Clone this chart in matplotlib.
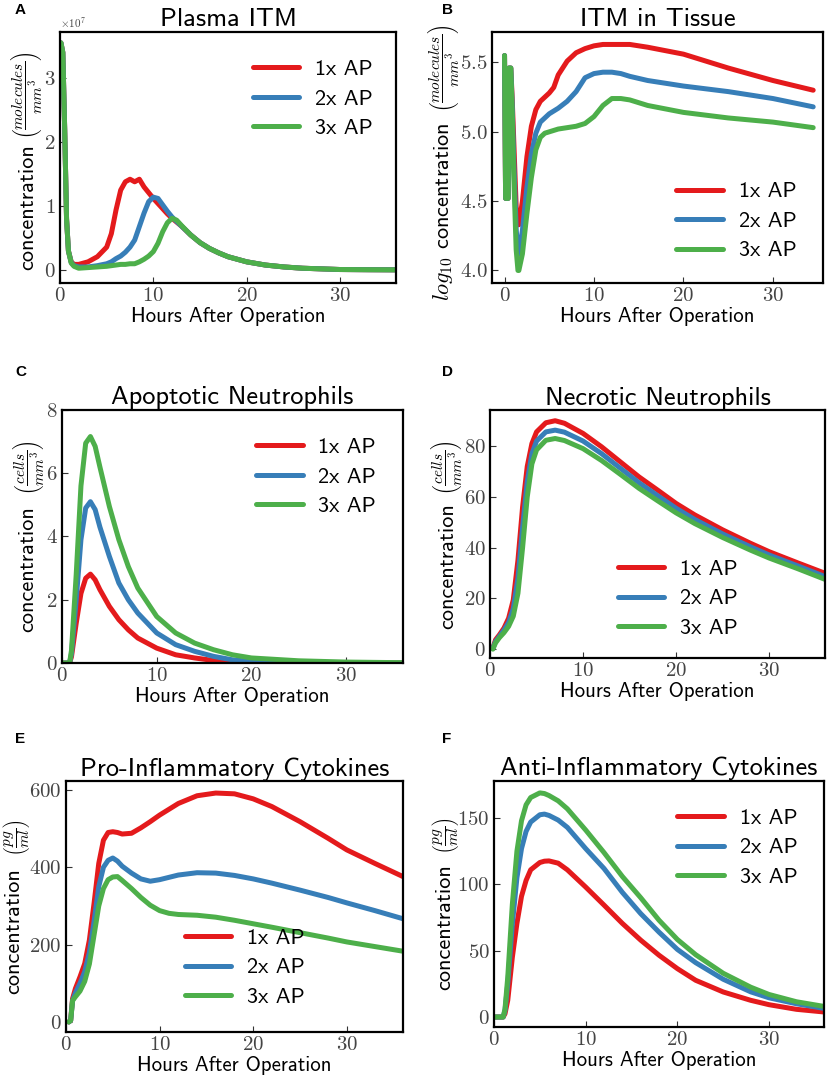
import matplotlib
matplotlib.use("Agg")
import matplotlib.pyplot as plt

plt.rcParams['font.family'] = 'cmr10'
plt.rcParams['mathtext.fontset'] = 'cm'
plt.rcParams['axes.formatter.use_mathtext'] = True

# series colours / names
names = ["1x AP", "2x AP", "3x AP"]
colors = ["#e41a1c", "#377eb8", "#4daf4a"]

# A: plasma ITM (units of 1e7 molecules/mm^3)
tA = [0.1, 0.3, 0.5, 0.7, 0.9, 1.2, 1.5, 2, 3, 4, 5, 5.5, 6, 6.5, 7, 7.5, 8, 8.5, 9, 9.5,
      10, 10.5, 11, 11.5, 12, 12.5, 13, 14, 15, 16, 17, 18, 20, 22, 24, 26, 28, 30, 33, 36]
itm_1 = [3.55, 3.4, 2.2, 0.8, 0.3, 0.13, 0.09, 0.09, 0.13, 0.21, 0.36, 0.57, 0.94, 1.25, 1.38, 1.42,
         1.38, 1.42, 1.30, 1.21, 1.12, 1.04, 0.96, 0.88, 0.81, 0.75, 0.69, 0.55, 0.43, 0.34, 0.27, 0.21,
         0.13, 0.08, 0.05, 0.03, 0.02, 0.01, 0.007, 0.005]
itm_2 = [3.55, 3.4, 2.2, 0.8, 0.3, 0.12, 0.07, 0.05, 0.05, 0.07, 0.10, 0.13, 0.18, 0.22, 0.28, 0.36,
         0.47, 0.68, 0.89, 1.07, 1.14, 1.12, 1.02, 0.92, 0.83, 0.76, 0.69, 0.55, 0.43, 0.34, 0.27, 0.21,
         0.13, 0.08, 0.05, 0.03, 0.02, 0.01, 0.007, 0.005]
itm_3 = [3.55, 3.4, 2.2, 0.8, 0.3, 0.11, 0.06, 0.03, 0.04, 0.05, 0.06, 0.07, 0.08, 0.09, 0.09, 0.10,
         0.10, 0.13, 0.17, 0.22, 0.29, 0.42, 0.60, 0.74, 0.81, 0.78, 0.70, 0.55, 0.43, 0.34, 0.27, 0.21,
         0.13, 0.08, 0.05, 0.03, 0.02, 0.01, 0.007, 0.005]
itm_scale = 1e7

# B: log10 ITM in tissue
tB = [0.0, 0.12, 0.4, 0.5, 0.7, 0.85, 1.0, 1.3, 1.5, 1.6, 2, 2.5, 3, 3.5, 4, 4.5, 5, 5.5, 6, 7, 8, 9,
      10, 11, 12, 13, 14, 16, 20, 25, 30, 34.5]
tis_1 = [5.55, 4.52, 4.52, 5.46, 5.46, 5.25, 4.99, 4.46, 4.33, 4.33, 4.50, 4.82, 5.04, 5.16, 5.22, 5.25,
         5.28, 5.32, 5.41, 5.51, 5.57, 5.60, 5.62, 5.63, 5.63, 5.63, 5.63, 5.61, 5.56, 5.46, 5.37, 5.30]
tis_2 = [5.55, 4.52, 4.52, 5.46, 5.46, 5.2, 4.85, 4.3, 4.12, 4.12, 4.29, 4.60, 4.84, 4.99, 5.07, 5.10,
         5.13, 5.15, 5.17, 5.22, 5.29, 5.39, 5.42, 5.43, 5.43, 5.42, 5.40, 5.37, 5.33, 5.29, 5.24, 5.18]
tis_3 = [5.55, 4.52, 4.52, 5.46, 5.46, 5.15, 4.75, 4.15, 4.0, 4.0, 4.12, 4.41, 4.67, 4.87, 4.96, 4.99,
         5.00, 5.01, 5.02, 5.03, 5.04, 5.06, 5.11, 5.19, 5.24, 5.24, 5.23, 5.19, 5.14, 5.10, 5.07, 5.03]

# C: apoptotic neutrophils
tC = [0, 0.8, 1, 1.5, 2, 2.5, 3, 3.5, 4, 5, 6, 7, 8, 10, 12, 14, 16, 18, 20, 25, 30, 36]
apo_1 = [0, 0, 0.2, 1.26, 2.2, 2.68, 2.81, 2.63, 2.32, 1.79, 1.37, 1.05, 0.79, 0.47, 0.26, 0.16, 0.08,
         0.04, 0.02, 0.005, 0.0, 0.0]
apo_2 = [0, 0, 0.3, 2.0, 3.9, 4.9, 5.1, 4.85, 4.3, 3.37, 2.53, 2.0, 1.58, 0.95, 0.58, 0.37, 0.21, 0.1,
         0.05, 0.01, 0.0, 0.0]
apo_3 = [0, 0, 0.4, 2.8, 5.6, 6.95, 7.16, 6.85, 6.2, 4.95, 3.9, 3.05, 2.37, 1.47, 0.95, 0.63, 0.42,
         0.26, 0.16, 0.07, 0.03, 0.01]

# D: necrotic neutrophils
tD = [0.3, 0.6, 1, 1.5, 2, 2.5, 3, 3.5, 4, 4.5, 5, 6, 7, 8, 10, 12, 14, 16, 18, 20, 22, 25, 28, 30, 33, 36]
nec_1 = [0.4, 3.7, 5.6, 8.3, 12.2, 19.4, 35, 56, 72, 81, 85.6, 89.2, 90, 89, 85, 79.7, 73.8, 67.9,
         62.7, 57.4, 52.9, 47, 41.7, 38.4, 34.1, 29.9]
nec_2 = [0.3, 3, 5, 7.5, 10.5, 16, 28, 48, 66, 77, 82, 85.6, 86.3, 85.5, 82, 77, 71.3, 65.6, 60.5,
         55.5, 51.1, 45.4, 40.3, 37.1, 32.9, 28.6]
nec_3 = [0, 2.5, 4.5, 6.5, 9, 13, 22, 40, 60, 73, 78.5, 82.3, 83, 82.2, 79, 74.3, 68.9, 63.4, 58.5,
         53.7, 49.5, 44, 39, 35.9, 31.8, 27.5]

# E: pro-inflammatory cytokines
tE = [0.3, 0.5, 0.7, 1, 1.5, 2, 2.5, 3, 3.5, 4, 4.5, 5, 5.5, 6, 7, 8, 9, 10, 11, 12, 14, 16, 18, 20,
      22, 25, 28, 30, 33, 36]
pro_1 = [0, 4, 60, 86, 117, 151, 212, 307, 410, 470, 490, 492, 490, 486, 488, 502, 518, 535, 550, 565,
         585, 592, 590, 577, 557, 518, 475, 445, 410, 376]
pro_2 = [0, 4, 55, 75, 100, 130, 180, 260, 350, 400, 418, 424, 416, 403, 385, 370, 364, 368, 374, 380,
         386, 385, 379, 370, 359, 341, 322, 308, 288, 267]
pro_3 = [0, 4, 55, 65, 80, 105, 150, 225, 300, 345, 368, 375, 376, 366, 345, 322, 302, 288, 281, 278,
         276, 271, 263, 254, 245, 231, 217, 207, 195, 183]

# F: anti-inflammatory cytokines
tF = [0, 1, 1.2, 1.5, 2, 2.5, 3, 3.5, 4, 5, 5.5, 6, 7, 8, 10, 12, 14, 16, 18, 20, 22, 25, 28, 30, 33, 36]
anti_1 = [0, 0, 2.5, 12.6, 45, 70.6, 91, 103, 111, 116.5, 117.5, 117.7, 116, 111, 98, 84.4, 70.6, 58,
          46.6, 36.5, 27.7, 18.9, 12.6, 9.3, 5.8, 3.8]
anti_2 = [0, 0, 5, 25, 70, 105, 127, 140, 147, 152.5, 153, 152, 148.5, 143, 127, 112, 94, 78, 64, 51,
          41, 28.5, 19, 14.5, 10, 6.5]
anti_3 = [0, 0, 6, 30, 85, 125, 148, 160, 165.5, 169, 168.5, 167, 163, 157, 141, 124, 106, 90, 73,
          58.5, 47, 33, 22.5, 17, 11.5, 8]

units_mol = r"$\left(\dfrac{molecules}{mm^3}\right)$"
units_cells = r"$\left(\dfrac{cells}{mm^3}\right)$"
units_pg = r"$\left(\dfrac{pg}{ml}\right)$"

panels = [
    ("A", "Plasma ITM", tA, [[v * itm_scale for v in s] for s in (itm_1, itm_2, itm_3)],
     "concentration", units_mol, (0, 36), (-0.2e7, 3.72e7),
     [0, 1e7, 2e7, 3e7], [0.0724, 0.738, 0.4053, 0.2324],
     dict(loc="upper right", bbox_to_anchor=(0.99, 0.97))),
    ("B", "ITM in Tissue", tB, [tis_1, tis_2, tis_3],
     r"$log_{10}$ concentration", units_mol, (-1.4, 35.6), (3.91, 5.72),
     [4.0, 4.5, 5.0, 5.5], [0.5935, 0.738, 0.3993, 0.2324],
     dict(loc="lower right", bbox_to_anchor=(0.98, 0.01))),
    ("C", "Apoptotic Neutrophils", tC, [apo_1, apo_2, apo_3],
     "concentration", units_cells, (0, 36), (0, 8), [0, 2, 4, 6, 8],
     [0.0748, 0.3861, 0.4113, 0.2343], dict(loc="upper right", bbox_to_anchor=(0.98, 0.97))),
    ("D", "Necrotic Neutrophils", tD, [nec_1, nec_2, nec_3],
     "concentration", units_cells, (0, 36), (-3.5, 94.2), [0, 20, 40, 60, 80],
     [0.5911, 0.3907, 0.4041, 0.2296], dict(loc="lower center", bbox_to_anchor=(0.56, 0.0))),
    ("E", "Pro-Inflammatory Cytokines", tE, [pro_1, pro_2, pro_3],
     "concentration", units_pg, (0, 36), (-26, 623), [0, 200, 400, 600],
     [0.0796, 0.0444, 0.4065, 0.2324], dict(loc="lower center", bbox_to_anchor=(0.53, 0.02))),
    ("F", "Anti-Inflammatory Cytokines", tF, [anti_1, anti_2, anti_3],
     "concentration", units_pg, (0, 36), (-7.5, 178), [0, 50, 100, 150],
     [0.5959, 0.0491, 0.3981, 0.2278], dict(loc="upper right", bbox_to_anchor=(0.98, 0.97))),
]

# pixel positions (x, y from top): panel letters, y-label word, y-label units
letter_pos = {"A": (15, 10), "B": (442, 10), "C": (15, 372), "D": (442, 372), "E": (15, 739), "F": (442, 739)}
word_pos = {"A": (28, 207), "B": (443, 212), "C": (28, 569), "D": (448, 566), "E": (14, 931), "F": (445, 927)}
unit_pos = {"A": (27, 95), "B": (444, 68), "C": (28, 468), "D": (447, 468), "E": (17, 838), "F": (446, 836)}

W, H = 829, 1080
fig = plt.figure(figsize=(W / 100, H / 100), dpi=100)

for letter, title, t, series, word, units, xlim, ylim, yticks, rect, legkw in panels:
    ax = fig.add_axes(rect)
    for y, c, n in zip(series, colors, names):
        ax.plot(t, y, color=c, lw=3.6, label=n, solid_capstyle="round")
    ax.set_xlim(*xlim)
    ax.set_ylim(*ylim)
    ax.set_xticks([0, 10, 20, 30])
    ax.set_yticks(yticks)
    if letter == "A":
        ax.ticklabel_format(axis="y", style="sci", scilimits=(0, 0))
        ax.yaxis.get_offset_text().set_fontsize(8)
        ax.yaxis.get_offset_text().set_color("#444444")
    ax.tick_params(direction="in", labelsize=15, length=4, pad=3, colors="#333333", labelcolor="#444444")
    for s in ax.spines.values():
        s.set_linewidth(1.6)
    ax.set_title(title, fontfamily="cmss10", fontsize=19, pad=4)
    ax.set_xlabel("Hours After Operation", fontfamily="cmss10", fontsize=15, labelpad=1)
    # y label in two parts: the word(s) and the units fraction
    wx, wy = word_pos[letter]
    fig.text(wx / W, 1 - wy / H, word, fontfamily="cmss10", fontsize=16, rotation=90,
             ha="center", va="center")
    ux, uy = unit_pos[letter]
    fig.text(ux / W, 1 - uy / H, units, fontsize=11, rotation=90, ha="center", va="center")
    ax.legend(frameon=False, handlelength=2.1, labelspacing=0.45, handletextpad=0.7,
              prop={"family": "cmss10", "size": 16}, **legkw)
    lx, ly = letter_pos[letter]
    fig.text(lx / W, 1 - ly / H, letter, fontfamily="Liberation Sans", fontweight="bold",
             fontsize=11, va="center", ha="left")

fig.savefig("out.png", dpi=100)
